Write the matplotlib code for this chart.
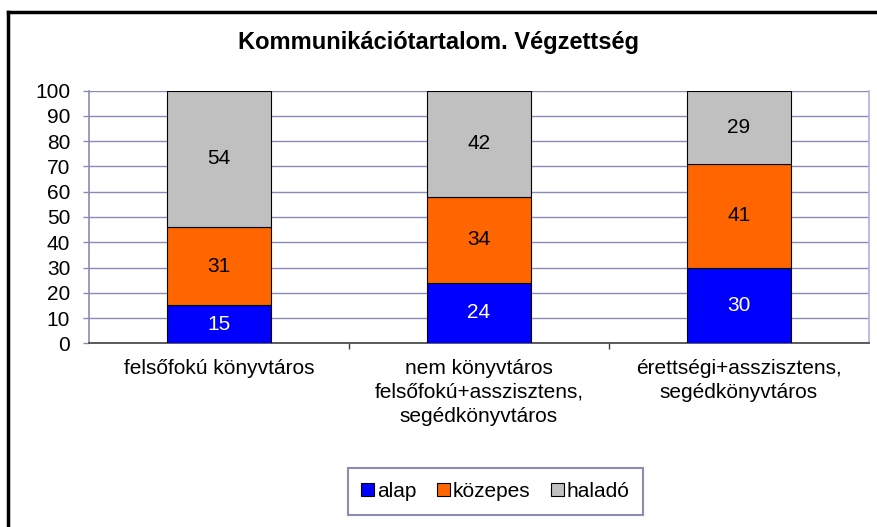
import matplotlib
matplotlib.use("Agg")
import matplotlib.pyplot as plt
from matplotlib.patches import Patch
from matplotlib.lines import Line2D
import numpy as np

plt.rcParams['font.family'] = ['Liberation Sans', 'DejaVu Sans']

title = "Kommunikációtartalom. Végzettség"
categories = ["felsőfokú könyvtáros",
              "nem könyvtáros\nfelsőfokú+asszisztens,\nsegédkönyvtáros",
              "érettségi+asszisztens,\nsegédkönyvtáros"]
series_names = ["alap", "közepes", "haladó"]
alap = [15, 24, 30]
kozepes = [31, 34, 41]
halado = [54, 42, 29]
colors = ["#0000FF", "#FF6600", "#C0C0C0"]
label_colors = ["white", "black", "black"]
yticks = [0, 10, 20, 30, 40, 50, 60, 70, 80, 90, 100]

FS = 15

fig = plt.figure(figsize=(8.77, 5.27), dpi=100)
ax = fig.add_axes([89/877, 1-343.3/527, 780/877, (343.3-90.7)/527])

x = np.arange(len(categories))
bottom = np.zeros(len(categories))
grid_c = "#8A8AB8"
for vals, col, lc in zip([alap, kozepes, halado], colors, label_colors):
    ax.bar(x, vals, width=0.4, bottom=bottom, color=col,
           edgecolor="black", linewidth=0.8, zorder=3)
    for xi, b, v in zip(x, bottom, vals):
        ax.text(xi, b + v/2, str(v), ha="center", va="center",
                color=lc, fontsize=FS, zorder=4)
    bottom += np.array(vals)

ax.set_xlim(-0.5, len(categories) - 0.5)
ax.set_ylim(0, 100)
ax.set_yticks(yticks)
ax.set_yticklabels([str(t) for t in yticks], fontsize=FS)
ax.yaxis.grid(True, color=grid_c, linewidth=1.0, zorder=0)
ax.set_axisbelow(True)

ax.set_xticks(x)
ax.set_xticklabels(categories, fontsize=FS, linespacing=1.35)
ax.tick_params(axis="x", length=0, pad=11)
ax.set_xticks([0.5, 1.5], minor=True)
ax.tick_params(axis="x", which="minor", length=4, color="#404040", width=1)
ax.tick_params(axis="y", length=4.5, color=grid_c, width=1, pad=9)

ax.spines["top"].set_visible(False)
ax.spines["left"].set_color(grid_c)
ax.spines["left"].set_linewidth(1.2)
ax.spines["right"].set_color("#B0B0D8")
ax.spines["right"].set_linewidth(1.2)
ax.spines["bottom"].set_color("#404040")
ax.spines["bottom"].set_linewidth(1.2)

fig.text(0.5, 1-49/527, title, ha="center", va="baseline",
         fontsize=17, fontweight="bold")

handles = [Patch(facecolor=c, edgecolor="black", linewidth=0.8) for c in colors]
leg = fig.legend(handles, series_names, loc="center",
                 bbox_to_anchor=(495.5/877, 1-491.5/527),
                 ncol=3, fontsize=FS, frameon=True, fancybox=False,
                 handlelength=0.6, handleheight=0.6, handletextpad=0.15,
                 columnspacing=1.0, borderpad=0.65, borderaxespad=0)
leg.get_frame().set_edgecolor("#7070A0")
leg.get_frame().set_linewidth(1.5)

# outer chart frame (top and left edges visible)
fig.add_artist(Line2D([8/877, 1.0], [1-12/527, 1-12/527], color="black",
                      linewidth=2.5, transform=fig.transFigure))
fig.add_artist(Line2D([8/877, 8/877], [0, 1-12/527], color="black",
                      linewidth=2.5, transform=fig.transFigure))

fig.savefig("out.png", dpi=100)
